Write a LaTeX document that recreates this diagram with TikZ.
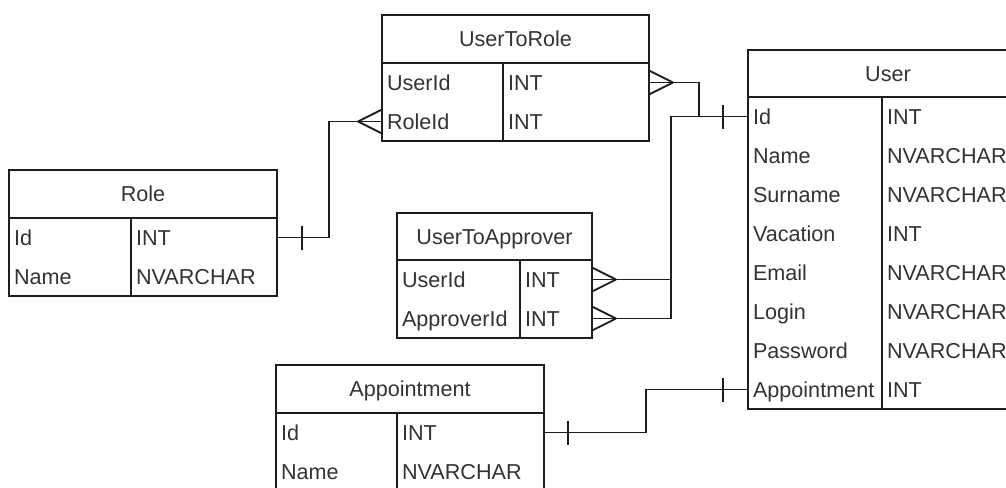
\documentclass[tikz,border=0pt]{standalone}
\usepackage{fontspec}
\setmainfont{Liberation Sans}
\usetikzlibrary{calc}
\definecolor{ink}{HTML}{333333}
\definecolor{rulec}{HTML}{1E1E1E}

\tikzset{
  frame/.style={draw=rulec, line width=1.8pt},
  conn/.style={draw=rulec, line width=1.8pt},
  erfont/.style={font=\fontsize{21.6}{26}\selectfont},
  tabhead/.style={frame, fill=white, anchor=north west, inner sep=0pt, outer sep=0pt,
    text=ink, erfont, text height=15.5pt, text depth=0pt},
  tabbody/.style={frame, fill=white, anchor=north west, inner sep=0pt, outer sep=0pt},
  cell/.style={anchor=west, minimum height=39pt, inner xsep=5pt, inner ysep=0pt,
    outer sep=0pt, align=left, text=ink, erfont,
    text height=15.5pt, text depth=0pt},
  manyR/.pic={\draw[conn] (24,0) -- (0,-12) (24,0) -- (0,12);},
  manyL/.pic={\draw[conn] (-24,0) -- (0,-12) (-24,0) -- (0,12);},
  onebar/.pic={\draw[conn] (0,-12) -- (0,12);}
}

% #1 id, #2 x, #3 y, #4 name column width, #5 type column width,
% #6 header height, #7 number of rows, #8 title
\newcommand\ertable[8]{%
  \node[tabhead, minimum width=#4+#5, minimum height=#6] (#1) at (#2,#3) {#8};
  \node[tabbody, minimum width=#4+#5, minimum height=#7*39] (#1-body) at (#1.south west) {};
  \draw[frame] ($(#1-body.north west)+(#4,0)$) -- ($(#1-body.south west)+(#4,0)$);
}
% #1 id, #2 table, #3 row index, #4 name column width, #5 type column width,
% #6 field, #7 type
\newcommand\errow[7]{%
  \node[cell, text width=#4-10] (#1) at ($(#2-body.north west)+(0,19.5+39*#3)$) {#6};
  \node[cell, text width=#5-10] (#1-t) at (#1.east) {#7};
}

\begin{document}
\begin{tikzpicture}[x=1pt,y=-1pt]
\useasboundingbox (0,0) rectangle (1006,487);
\fill[white] (0,0) rectangle (1006,487);
\clip (0,0) rectangle (1006,487);

% tables
\ertable{utr}{382}{15}{121}{146}{48}{2}{UserToRole}
\errow{utr-uid}{utr}{0}{121}{146}{UserId}{INT}
\errow{utr-rid}{utr}{1}{121}{146}{RoleId}{INT}

\ertable{role}{9}{170}{122}{146}{48}{2}{Role}
\errow{role-id}{role}{0}{122}{146}{Id}{INT}
\errow{role-name}{role}{1}{122}{146}{Name}{NVARCHAR}

\ertable{uta}{397}{213}{123}{72}{47}{2}{UserToApprover}
\errow{uta-uid}{uta}{0}{123}{72}{UserId}{INT}
\errow{uta-aid}{uta}{1}{123}{72}{ApproverId}{INT}

\ertable{usr}{748}{50}{134}{146}{47}{8}{User}
\errow{usr-id}{usr}{0}{134}{146}{Id}{INT}
\errow{usr-name}{usr}{1}{134}{146}{Name}{NVARCHAR}
\errow{usr-surname}{usr}{2}{134}{146}{Surname}{NVARCHAR}
\errow{usr-vacation}{usr}{3}{134}{146}{Vacation}{INT}
\errow{usr-email}{usr}{4}{134}{146}{Email}{NVARCHAR}
\errow{usr-login}{usr}{5}{134}{146}{Login}{NVARCHAR}
\errow{usr-password}{usr}{6}{134}{146}{Password}{NVARCHAR}
\errow{usr-appt}{usr}{7}{134}{146}{Appointment}{INT}

\ertable{appt}{276}{365}{121}{147}{48}{2}{Appointment}
\errow{appt-id}{appt}{0}{121}{147}{Id}{INT}
\errow{appt-name}{appt}{1}{121}{147}{Name}{NVARCHAR}

% relationships
\draw[conn] (role-id-t.east) -- ++(52,0) |- (utr-rid.west);
\pic at ($(role-id-t.east)+(25,0)$) {onebar};
\pic at (utr-rid.west) {manyL};

\draw[conn] (utr-uid-t.east) -- ++(50,0) |- (usr-id.west);
\pic at (utr-uid-t.east) {manyR};

\draw[conn] (uta-uid-t.east) -- ++(79,0) |- (usr-id.west);
\draw[conn] (uta-aid-t.east) -- ++(79,0) |- (usr-id.west);
\pic at (uta-uid-t.east) {manyR};
\pic at (uta-aid-t.east) {manyR};
\pic at ($(usr-id.west)+(-25,0)$) {onebar};

\draw[conn] (appt-id-t.east) -- ++(102,0) |- (usr-appt.west);
\pic at ($(appt-id-t.east)+(24,0)$) {onebar};
\pic at ($(usr-appt.west)+(-25,0)$) {onebar};
\end{tikzpicture}
\end{document}
